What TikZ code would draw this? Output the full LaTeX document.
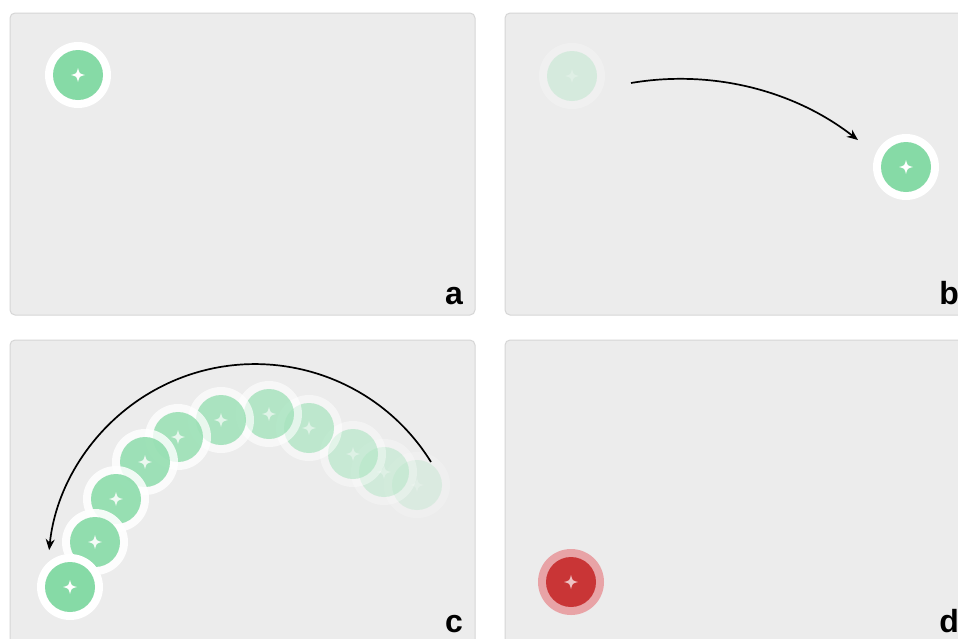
\documentclass[tikz,border=0pt]{standalone}
\usepackage{fontspec}
\setmainfont{Liberation Sans}
\usetikzlibrary{arrows.meta}
\definecolor{panelgray}{HTML}{ECECEC}
\definecolor{panelborder}{HTML}{D6D6D6}
\definecolor{tokgreen}{HTML}{86DAA6}
\definecolor{tokred}{HTML}{C93536}
\definecolor{tokpink}{HTML}{E8A3A6}
\newcommand{\sparklepath}{(0,-7) .. controls (1.4,-1.4) .. (7,0) .. controls (1.4,1.4) .. (0,7) .. controls (-1.4,1.4) .. (-7,0) .. controls (-1.4,-1.4) .. (0,-7)}
\newcommand{\greentoken}[3]{%
  \begin{scope}[shift={(#1,#2)}]
    \fill[white, opacity=#3] (0,0) circle (33);
    \fill[tokgreen, opacity=#3] (0,0) circle (25);
    \fill[white, opacity=#3] \sparklepath;
  \end{scope}}
\begin{document}
\begin{tikzpicture}[x=1pt,y=-1pt,
  panel/.style={fill=panelgray, draw=panelborder, line width=1pt, rounded corners=5pt},
  lbl/.style={font=\fontsize{32}{32}\selectfont\bfseries, anchor=base east, inner sep=0pt},
  motion/.style={line width=1.7pt, -{Stealth[length=11pt,width=9pt]}}]
\useasboundingbox (0,0) rectangle (958,638);
\clip (0,0) rectangle (958,638);
\fill[white] (0,0) rectangle (958,638);
% panels
\draw[panel] (10,13) rectangle (475,315);
\draw[panel] (505,13) rectangle (970,315);
\draw[panel] (10,340) rectangle (475,655);
\draw[panel] (505,340) rectangle (970,655);
% labels
\node[lbl] (la) at (463,304) {a};
\node[lbl] (lb) at (959,304) {b};
\node[lbl] (lc) at (463,632) {c};
\node[lbl] (ld) at (959,632) {d};
% panel a
\greentoken{78}{75}{1}
% panel b
\greentoken{572}{76}{0.25}
\greentoken{906}{167}{1}
\coordinate (bs) at (631,83);
\draw[motion] (bs) arc[start angle=-99.7, end angle=-52.1, radius=290];
% panel c
\greentoken{417}{485}{0.2}
\greentoken{384}{472}{0.3}
\greentoken{353}{454}{0.4}
\greentoken{309}{428}{0.5}
\greentoken{269}{414}{0.6}
\greentoken{221}{420}{0.68}
\greentoken{178}{437}{0.74}
\greentoken{145}{462}{0.8}
\greentoken{116}{499}{0.85}
\greentoken{95}{542}{0.9}
\greentoken{70}{587}{1}
\coordinate (cs) at (431,462);
\draw[motion] (cs) arc[start angle=-31.8, end angle=-174.2, radius=207];
% panel d
\begin{scope}[shift={(571,582)}]
  \fill[tokpink] (0,0) circle (33);
  \fill[tokred] (0,0) circle (25);
  \fill[white, opacity=0.7] \sparklepath;
\end{scope}
\end{tikzpicture}
\end{document}
